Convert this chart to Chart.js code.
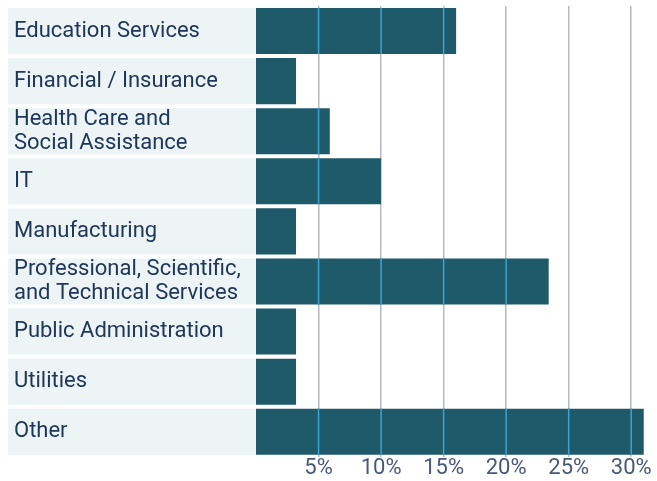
<!DOCTYPE html>
<html>
<head>
<meta charset="utf-8">
<script src="https://cdn.jsdelivr.net/npm/chart.js@4"></script>
<style>
  html, body { margin: 0; padding: 0; background: #fff; }
  #wrap { width: 657px; height: 481px; position: relative; }
</style>
</head>
<body>
<div id="wrap"><canvas id="chart"></canvas></div>
<script>
// 行业分类（多行标签用数组）
const categories = [
  'Education Services',
  'Financial / Insurance',
  ['Health Care and', 'Social Assistance'],
  'IT',
  'Manufacturing',
  ['Professional, Scientific,', 'and Technical Services'],
  'Public Administration',
  'Utilities',
  'Other'
];
// 百分比数值
const shares = [16, 3.2, 5.9, 10, 3.2, 23.4, 3.2, 3.2, 31];
// 横轴刻度
const tickValues = [5, 10, 15, 20, 25, 30];

const BAR = '#1f5a6b';
const BOX = '#ecf4f6';
const TEXT = '#213759';

// 在标签区域画浅色底框（先于坐标轴绘制）
const labelBoxes = {
  id: 'labelBoxes',
  beforeDraw(chart) {
    const { ctx, chartArea, scales } = chart;
    const meta = chart.getDatasetMeta(0);
    ctx.save();
    ctx.fillStyle = BOX;
    meta.data.forEach(bar => {
      const h = bar.height;
      const x0 = scales.y.left - 6;
      ctx.fillRect(x0, bar.y - h / 2, chartArea.left + 4 - x0, h);
    });
    ctx.restore();
  },
  afterDatasetsDraw(chart) {
    // 柱子上方的网格线显示为浅蓝色
    const { ctx, scales } = chart;
    const meta = chart.getDatasetMeta(0);
    ctx.save();
    ctx.strokeStyle = '#3ba4d0';
    ctx.lineWidth = 1.5;
    meta.data.forEach(bar => {
      const h = bar.height;
      tickValues.forEach(v => {
        const px = scales.x.getPixelForValue(v);
        if (px > Math.min(bar.base, bar.x) && px < Math.max(bar.base, bar.x)) {
          ctx.beginPath();
          ctx.moveTo(px, bar.y - h / 2);
          ctx.lineTo(px, bar.y + h / 2);
          ctx.stroke();
        }
      });
    });
    ctx.restore();
  }
};

new Chart(document.getElementById('chart'), {
  type: 'bar',
  data: {
    labels: categories,
    datasets: [{
      data: shares,
      backgroundColor: BAR,
      borderWidth: 0,
      barPercentage: 0.92,
      categoryPercentage: 1
    }]
  },
  options: {
    indexAxis: 'y',
    responsive: true,
    maintainAspectRatio: false,
    animation: false,
    layout: { padding: { left: 14, top: 6, right: 7, bottom: 0 } },
    plugins: {
      legend: { display: false },
      tooltip: { enabled: false }
    },
    scales: {
      x: {
        min: 0,
        max: 31.5,
        border: { display: false },
        grid: { color: '#b5b9bd', lineWidth: 1.5, drawTicks: false },
        afterBuildTicks(scale) {
          scale.ticks = tickValues.map(v => ({ value: v }));
        },
        ticks: {
          padding: 0,
          color: '#4a5877',
          font: { family: 'Roboto', size: 22, lineHeight: 1.1 },
          callback: v => v + '%',
          maxRotation: 0
        }
      },
      y: {
        border: { display: false },
        grid: { display: false, drawTicks: false },
        afterFit(scale) {
          scale.width = 242;
          scale.paddingTop = 0;
          scale.paddingBottom = 0;
        },
        ticks: {
          autoSkip: false,
          crossAlign: 'far',
          color: TEXT,
          font: { family: 'Roboto', size: 22, lineHeight: 1.09 },
          padding: 0
        }
      }
    }
  },
  plugins: [labelBoxes]
});
</script>
</body>
</html>
